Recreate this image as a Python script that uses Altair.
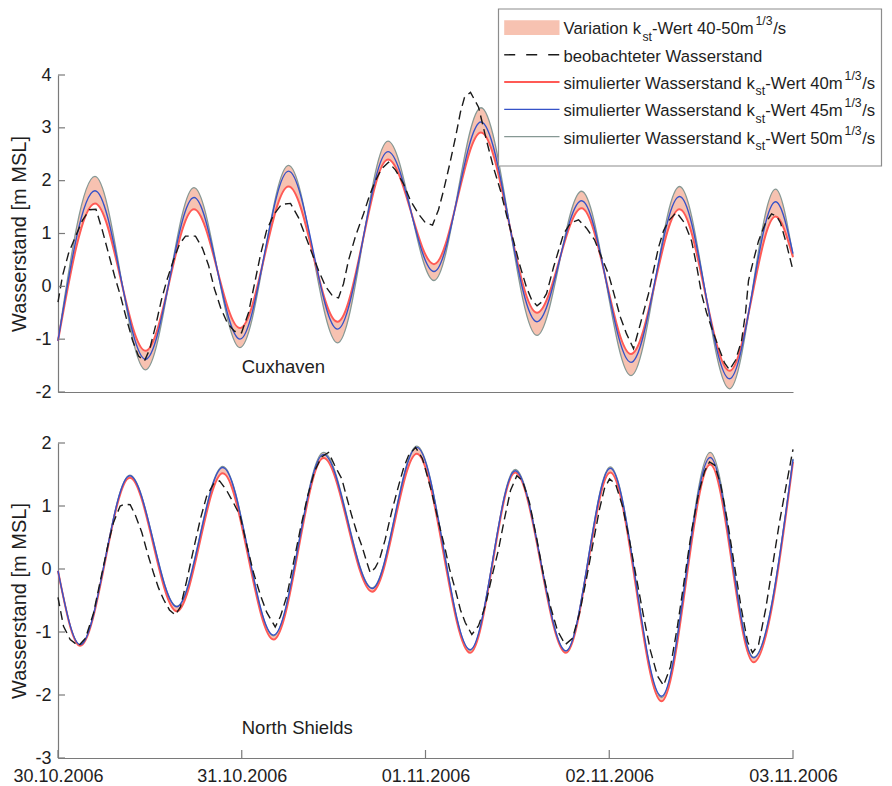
import altair as alt
import pandas as pd

START = pd.Timestamp("2006-10-30 00:00:00")
FONT = "Liberation Sans"
AX = "#7a7a7a"
TXT = "#1e1e1e"
BAND = "#f7c2b1"
C40 = "#ff5a55"
C45 = "#3552c8"
C50 = "#869894"
COBS = "#1a1a1a"

# x-axis tick dates and labels
date_ticks = ["2006-10-30", "2006-10-31", "2006-11-01", "2006-11-02", "2006-11-03"]

# ---------------- Cuxhaven ----------------
cux_yticks = [-2, -1, 0, 1, 2, 3, 4]
cux_sim_hours = [0.0, 4.83, 11.43, 17.76, 23.77, 30.11, 36.51, 43.10, 49.11, 55.25,
                 62.56, 68.38, 74.84, 81.18, 87.71, 93.72, 96.0]
cux_sim40 = [-1.03, 1.57, -1.22, 1.46, -0.79, 1.89, -0.67, 2.40, 0.42, 2.91,
             -0.50, 1.48, -1.28, 1.46, -1.60, 1.32, 0.55]
cux_sim45 = [-1.03, 1.81, -1.38, 1.68, -1.00, 2.18, -0.81, 2.55, 0.28, 3.11,
             -0.67, 1.62, -1.44, 1.70, -1.75, 1.60, 0.62]
cux_sim50 = [-1.03, 2.08, -1.58, 1.87, -1.16, 2.29, -1.07, 2.75, 0.11, 3.38,
             -0.93, 1.80, -1.69, 1.89, -1.94, 1.84, 0.58]
cux_obs_hours = [0.00, 0.59, 1.37, 2.16, 3.20, 4.11, 4.96, 5.81, 6.60, 7.38,
                 8.16, 8.95, 9.73, 10.51, 11.30, 11.95, 12.74, 13.52, 14.21, 15.09,
                 15.87, 16.65, 17.96, 18.87, 19.66, 20.44, 21.23, 22.14, 23.05, 23.97,
                 24.88, 25.67, 26.45, 27.23, 28.15, 29.19, 30.37, 31.41, 32.33, 33.11,
                 34.03, 34.94, 35.85, 36.64, 37.29, 37.94, 38.86, 39.90, 40.69, 41.47,
                 42.25, 43.17, 44.08, 45.13, 46.04, 47.09, 48.00, 48.92, 49.70, 50.35,
                 51.14, 51.92, 52.57, 53.10, 53.88, 54.93, 55.97, 56.88, 57.80, 58.58,
                 59.50, 60.28, 61.19, 61.85, 62.57, 63.15, 63.81, 64.72, 66.03, 66.94,
                 67.99, 69.03, 70.08, 70.99, 71.91, 72.69, 73.47, 74.26, 75.17, 76.08,
                 77.13, 77.78, 78.44, 79.09, 79.74, 80.79, 81.83, 82.75, 83.40, 84.05,
                 84.71, 85.36, 86.27, 87.06, 87.71, 88.49, 89.28, 89.80, 90.19, 90.85,
                 91.50, 92.41, 93.20, 93.85, 94.37, 95.15, 96.00]
cux_obs = [-0.30, 0.20, 0.62, 0.90, 1.25, 1.45, 1.46, 1.05, 0.62, 0.20,
           -0.18, -0.62, -1.02, -1.32, -1.41, -1.20, -0.75, -0.25, 0.11, 0.50,
           0.80, 0.95, 0.95, 0.72, 0.40, -0.05, -0.40, -0.70, -0.85, -0.88,
           -0.50, 0.05, 0.60, 1.05, 1.35, 1.55, 1.57, 1.30, 0.95, 0.65,
           0.30, 0.00, -0.18, -0.22, 0.05, 0.49, 0.95, 1.37, 1.72, 2.00,
           2.22, 2.35, 2.20, 1.94, 1.62, 1.37, 1.20, 1.16, 1.45, 1.81,
           2.30, 2.82, 3.30, 3.58, 3.67, 3.39, 2.76, 2.25, 1.81, 1.35,
           0.86, 0.42, -0.02, -0.25, -0.37, -0.30, -0.14, 0.36, 0.99, 1.20,
           1.26, 1.10, 0.88, 0.55, 0.23, -0.18, -0.59, -0.90, -1.18, -0.70,
           -0.14, 0.30, 0.74, 1.05, 1.24, 1.40, 1.20, 0.86, 0.40, -0.14,
           -0.50, -0.78, -1.15, -1.45, -1.58, -1.40, -1.03, -0.50, 0.11, 0.50,
           0.86, 1.20, 1.37, 1.33, 1.20, 0.80, 0.30]

# ---------------- North Shields ----------------
ns_yticks = [-3, -2, -1, 0, 1, 2]
ns_sim_hours = [0.0, 2.90, 9.38, 15.52, 21.52, 28.15, 34.68, 41.04, 46.87, 53.84,
                59.72, 66.35, 72.14, 78.83, 85.19, 90.85, 96.0]
ns_sim40 = [-0.03, -1.22, 1.45, -0.67, 1.52, -1.12, 1.76, -0.36, 1.83, -1.33,
            1.53, -1.33, 1.53, -2.10, 1.66, -1.48, 1.70]
ns_sim45 = [-0.03, -1.20, 1.48, -0.60, 1.61, -1.05, 1.82, -0.31, 1.93, -1.28,
            1.56, -1.30, 1.60, -2.02, 1.77, -1.41, 1.74]
ns_sim50 = [-0.03, -1.20, 1.49, -0.59, 1.63, -1.06, 1.85, -0.30, 1.95, -1.29,
            1.58, -1.30, 1.62, -2.04, 1.85, -1.40, 1.75]
ns_obs_hours = [0.00, 0.72, 1.59, 2.68, 3.59, 4.64, 5.68, 6.60, 7.25, 8.12,
                8.69, 9.43, 10.12, 10.95, 11.69, 12.47, 13.13, 13.78, 14.56, 15.31,
                16.00, 16.78, 17.70, 18.61, 19.40, 20.31, 21.10, 22.01, 22.92, 23.80,
                24.62, 25.54, 26.45, 27.27, 28.37, 29.06, 29.89, 30.76, 31.68, 32.59,
                33.50, 34.42, 35.33, 36.12, 37.07, 37.68, 38.38, 38.99, 39.68, 40.30,
                40.78, 41.43, 41.99, 42.74, 43.56, 44.48, 45.13, 45.78, 46.70, 47.61,
                48.83, 49.70, 50.58, 51.14, 51.88, 52.57, 53.19, 54.05, 54.93, 55.80,
                56.62, 57.54, 58.32, 59.11, 59.93, 60.67, 61.59, 62.50, 63.42, 64.33,
                65.24, 66.25, 67.20, 68.12, 69.03, 69.95, 70.73, 71.38, 72.04, 72.82,
                73.73, 74.65, 75.56, 76.48, 77.39, 78.31, 79.09, 80.00, 80.92, 81.83,
                82.75, 83.66, 84.45, 85.10, 85.75, 86.54, 87.45, 88.36, 89.28, 90.06,
                90.71, 91.50, 92.41, 93.33, 94.24, 95.15, 96.00]
ns_obs = [-0.45, -0.91, -1.12, -1.22, -1.10, -0.70, -0.10, 0.42, 0.74, 1.00,
          1.03, 1.02, 0.85, 0.58, 0.25, -0.06, -0.30, -0.48, -0.65, -0.73,
          -0.60, -0.20, 0.31, 0.80, 1.15, 1.35, 1.40, 1.25, 1.05, 0.84,
          0.40, -0.06, -0.42, -0.69, -0.92, -0.75, -0.43, 0.10, 0.65, 1.15,
          1.55, 1.78, 1.85, 1.65, 1.43, 1.15, 0.84, 0.60, 0.37, 0.12,
          -0.06, 0.02, 0.15, 0.47, 0.90, 1.32, 1.60, 1.80, 1.93, 1.75,
          1.21, 0.75, 0.31, 0.00, -0.32, -0.65, -0.85, -1.04, -0.90, -0.59,
          -0.15, 0.31, 0.80, 1.25, 1.48, 1.40, 1.05, 0.50, -0.10, -0.60,
          -0.98, -1.20, -1.10, -0.70, -0.15, 0.45, 0.95, 1.28, 1.43, 1.35,
          1.00, 0.45, -0.15, -0.75, -1.30, -1.70, -1.85, -1.55, -0.90, -0.15,
          0.60, 1.20, 1.55, 1.70, 1.65, 1.35, 0.75, 0.05, -0.65, -1.15,
          -1.33, -1.20, -0.65, 0.05, 0.75, 1.35, 1.90]

# legend texts: (text, kind) with kind m=main, sub=subscript, sup=superscript
legend_rows = [
    [("Variation k", "m"), ("st", "sub"), ("-Wert 40-50m", "m"), ("1/3", "sup"), ("/s", "m")],
    [("beobachteter Wasserstand", "m")],
    [("simulierter Wasserstand k", "m"), ("st", "sub"), ("-Wert 40m", "m"), ("1/3", "sup"), ("/s", "m")],
    [("simulierter Wasserstand k", "m"), ("st", "sub"), ("-Wert 45m", "m"), ("1/3", "sup"), ("/s", "m")],
    [("simulierter Wasserstand k", "m"), ("st", "sub"), ("-Wert 50m", "m"), ("1/3", "sup"), ("/s", "m")],
]


def to_time(hours):
    return [START + pd.Timedelta(hours=h) for h in hours]


def dt(s):
    y, m, d = (int(p) for p in s.split("-"))
    return alt.DateTime(year=y, month=m, date=d, hours=0)


# Arial / Liberation Sans advance widths (1/1000 em)
ADV = {'V': 667, 'a': 556, 'r': 333, 'i': 222, 't': 278, 'o': 556, 'n': 556, ' ': 278,
       'k': 500, '-': 333, 'W': 944, 'e': 556, '4': 556, '0': 556, '5': 556, 'm': 833,
       '/': 278, 's': 500, 'b': 556, 'c': 500, 'h': 556, 'd': 556, 'l': 222, 'u': 556,
       '1': 556, '3': 556}


def tw(s, size):
    return sum(ADV.get(ch, 556) for ch in s) * size / 1000.0


W = 735
x_scale = alt.Scale(domain=[dt(date_ticks[0]), dt(date_ticks[-1])], nice=False)


def panel(hours_sim, s40, s45, s50, hours_obs, obs, ydom, yticks, h, station, st_y,
          show_labels, extra=None):
    sim = pd.DataFrame({"t": to_time(hours_sim), "s40": s40, "s45": s45, "s50": s50})
    ob = pd.DataFrame({"t": to_time(hours_obs), "obs": obs})
    ys = alt.Scale(domain=ydom, nice=False, zero=False)
    xaxis = alt.Axis(values=[dt(s) for s in date_ticks], format="%d.%m.%Y",
                     labels=show_labels, ticks=False, grid=False, title=None,
                     domainColor=AX, domainWidth=1.2, labelFont=FONT, labelFontSize=18,
                     labelColor=TXT, labelPadding=9.4, labelFlush=False, labelOverlap=False)
    yaxis = alt.Axis(values=yticks, ticks=False, grid=False, title="Wasserstand [m MSL]",
                     labelExpr="datum.value + ''",
                     domainColor=AX, domainWidth=1.2, labelFont=FONT, labelFontSize=18,
                     labelColor=TXT, labelPadding=7, titleFont=FONT, titleFontSize=20,
                     titleFontWeight="normal", titleColor=TXT, titlePadding=5.5)
    xs = alt.X("t:T", scale=x_scale, axis=xaxis)

    def yenc(field):
        return alt.Y(field, scale=ys, axis=yaxis)

    band = alt.Chart(sim).mark_area(interpolate="monotone", color=BAND, opacity=1).encode(
        x=xs, y=yenc("s40:Q"), y2="s50:Q")
    l50 = alt.Chart(sim).mark_line(interpolate="monotone", color=C50, strokeWidth=1.3).encode(
        x=xs, y=yenc("s50:Q"))
    l40 = alt.Chart(sim).mark_line(interpolate="monotone", color=C40, strokeWidth=2.0).encode(
        x=xs, y=yenc("s40:Q"))
    l45 = alt.Chart(sim).mark_line(interpolate="monotone", color=C45, strokeWidth=1.4).encode(
        x=xs, y=yenc("s45:Q"))
    lob = alt.Chart(ob).mark_line(color=COBS, strokeWidth=1.4, strokeDash=[9, 5]).encode(
        x=xs, y=yenc("obs:Q"))
    ytk = alt.Chart(pd.DataFrame({"v": yticks})).mark_rule(color=AX, strokeWidth=1.2).encode(
        y=yenc("v:Q"), x=alt.value(0), x2=alt.value(7))
    lab = alt.Chart(pd.DataFrame({"t": [START + pd.Timedelta(hours=24)], "v": [st_y],
                                  "label": [station]})).mark_text(
        align="left", baseline="middle", font=FONT, fontSize=18.5, color=TXT).encode(
        x=xs, y=yenc("v:Q"), text="label:N")
    layers = [band, l50, l40, l45, lob, ytk, lab]
    if show_labels:
        xt = alt.Chart(pd.DataFrame({"t": pd.to_datetime(date_ticks)})).mark_rule(
            color=AX, strokeWidth=1.2).encode(x=xs, y=alt.value(h - 8), y2=alt.value(h))
        layers.append(xt)
    if extra:
        layers += extra
    return alt.layer(*layers).properties(width=W, height=h)


# ---------------- legend (drawn in the top panel) ----------------
one = pd.DataFrame({"k": [0]})
LX0, LX1, LY0, LY1 = 440.5, 823.5, -66, 91
SX0, SX1, TX = 446.2, 501.5, 505.5
B0, DB = -40.7, 27.3
MAIN, SCR = 16.7, 12.3

legend_layers = [
    alt.Chart(one).mark_rect(fill="white", stroke="#8c8c8c", strokeWidth=1.2).encode(
        x=alt.value(LX0), x2=alt.value(LX1), y=alt.value(LY0), y2=alt.value(LY1)),
    alt.Chart(one).mark_rect(fill=BAND).encode(
        x=alt.value(SX0), x2=alt.value(SX1), y=alt.value(B0 - 14), y2=alt.value(B0 + 0.7)),
]
sym = [(COBS, 1.4, [11, 11]), (C40, 2.0, None), (C45, 1.4, None), (C50, 1.3, None)]
for i, (c, w, d) in enumerate(sym, start=1):
    kw = dict(color=c, strokeWidth=w)
    if d:
        kw["strokeDash"] = d
    yy = B0 + i * DB - 6.8
    legend_layers.append(alt.Chart(one).mark_rule(**kw).encode(
        x=alt.value(SX0), x2=alt.value(SX1), y=alt.value(yy)))

pieces = []
for i, row in enumerate(legend_rows):
    base = B0 + i * DB
    cur = TX
    for text, kind in row:
        if kind == "sup":
            cur += 1.5
            pieces.append({"px": cur, "py": base - 9.0, "txt": text, "fs": SCR})
            cur += tw(text, SCR) + 0.5
        elif kind == "sub":
            pieces.append({"px": cur, "py": base + 6.5, "txt": text, "fs": SCR})
            cur += tw(text, SCR)
        else:
            pieces.append({"px": cur, "py": base, "txt": text, "fs": MAIN})
            cur += tw(text, MAIN)
pdf = pd.DataFrame(pieces)
legend_layers.append(alt.Chart(pdf).mark_text(
    align="left", baseline="alphabetic", font=FONT, color=TXT).encode(
    x=alt.X("px:Q", scale=None, axis=None), y=alt.Y("py:Q", scale=None, axis=None),
    text="txt:N", size=alt.Size("fs:Q", scale=None, legend=None)))

top = panel(cux_sim_hours, cux_sim40, cux_sim45, cux_sim50, cux_obs_hours, cux_obs,
            [-2, 4], cux_yticks, 317, "Cuxhaven", -1.52, False, legend_layers)
bottom = panel(ns_sim_hours, ns_sim40, ns_sim45, ns_sim50, ns_obs_hours, ns_obs,
               [-3, 2], ns_yticks, 315, "North Shields", -2.52, True)

chart = alt.vconcat(top, bottom, spacing=33).properties(
    padding={"left": 1, "top": 0, "right": 0, "bottom": 0}
).configure_view(stroke=None)

chart.save("out.html", embed_options={"renderer": "svg", "actions": False})
